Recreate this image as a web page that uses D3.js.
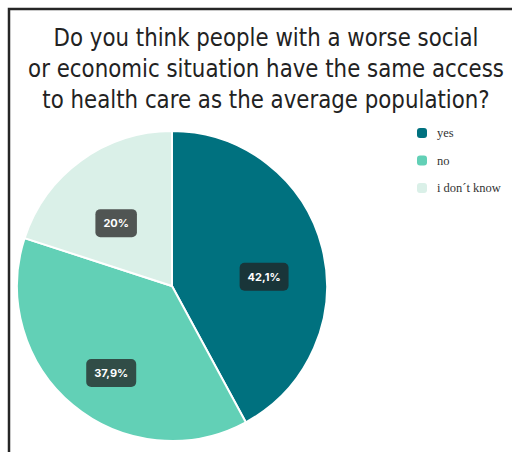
<!DOCTYPE html>
<html>
<head>
<meta charset="utf-8">
<script src="https://cdn.jsdelivr.net/npm/d3@7"></script>
<style>
  html, body { margin: 0; padding: 0; background: #fff; }
  svg { display: block; }
</style>
</head>
<body>
<div id="chart"></div>
<script>
'use strict';

// chart values
const titleLines = [
    'Do you think people with a worse social',
    'or economic situation have the same access',
    'to health care as the average population?'
];
const categories = ['yes', 'no', 'i don\u00b4t know'];
const shares = [42.1, 37.9, 20];
const shareLabels = ['42,1%', '37,9%', '20%'];
const colors = ['#00717f', '#62d0b6', '#daf0e8'];

const width = 512, height = 452;
const cx = 172, cy = 286, radius = 155;

const svg = d3.select('#chart')
    .append('svg')
    .attr('width', width)
    .attr('height', height);

// frame (top and left edge of the card)
svg.append('path')
    .attr('d', `M9,${height} L9,9 L${width},9`)
    .attr('fill', 'none')
    .attr('stroke', '#262626')
    .attr('stroke-width', 2.5);

// title - condensed by a horizontal scale so the first line is ~425px wide
const titleGroup = svg.append('g');
const titleText = titleGroup.selectAll('text')
    .data(titleLines)
    .join('text')
    .attr('x', 0)
    .attr('y', (d, i) => 46 + i * 31)
    .attr('text-anchor', 'middle')
    .style('font-family', '"DejaVu Sans Condensed", "Liberation Sans Narrow", "Open Sans", sans-serif')
    .style('font-size', '24px')
    .style('fill', '#222')
    .text(d => d);

const firstWidth = titleText.node().getComputedTextLength();
const sx = Math.min(1, 425 / firstWidth);
titleGroup.attr('transform', `translate(266,0) scale(${sx},1)`);

// pie
const data = categories.map((c, i) => ({ name: c, value: shares[i], label: shareLabels[i], color: colors[i] }));

const pie = d3.pie().value(d => d.value).sort(null);
const arc = d3.arc().innerRadius(0).outerRadius(radius);
const labelArc = d3.arc().innerRadius(95).outerRadius(95);

const arcs = pie(data);

const pieGroup = svg.append('g')
    .attr('transform', `translate(${cx},${cy})`);

pieGroup.selectAll('path')
    .data(arcs)
    .join('path')
    .attr('d', arc)
    .attr('fill', d => d.data.color)
    .attr('stroke', '#fff')
    .attr('stroke-width', 2);

const labels = pieGroup.selectAll('g.label')
    .data(arcs)
    .join('g')
    .classed('label', true)
    .attr('transform', d => {
        const [x, y] = labelArc.centroid(d);
        return `translate(${x},${y})`;
    });

labels.append('text')
    .attr('x', 0)
    .attr('y', 18)
    .attr('text-anchor', 'middle')
    .style('font-family', 'Inter, Roboto, sans-serif')
    .style('font-weight', 'bold')
    .style('font-size', '11px')
    .style('fill', '#fff')
    .text(d => d.data.label);

// rounded background behind each label, sized from its text
labels.each(function () {
    const g = d3.select(this);
    const w = g.select('text').node().getComputedTextLength() + 16;
    g.insert('rect', 'text')
        .attr('x', -w / 2)
        .attr('y', 0)
        .attr('width', w)
        .attr('height', 28)
        .attr('rx', 5)
        .attr('fill', '#222')
        .attr('fill-opacity', 0.75);
});

// legend
const legend = svg.append('g')
    .attr('transform', 'translate(417,133)');

const items = legend.selectAll('g')
    .data(data)
    .join('g')
    .attr('transform', (d, i) => `translate(0,${i * 27.5})`);

items.append('rect')
    .attr('x', 0)
    .attr('y', -5)
    .attr('width', 10)
    .attr('height', 10)
    .attr('rx', 3)
    .attr('fill', d => d.color);

items.append('text')
    .attr('x', 20)
    .attr('y', 4)
    .style('font-family', '"Liberation Serif", serif')
    .style('font-size', '12.5px')
    .style('fill', '#333')
    .text(d => d.name);
</script>
</body>
</html>
